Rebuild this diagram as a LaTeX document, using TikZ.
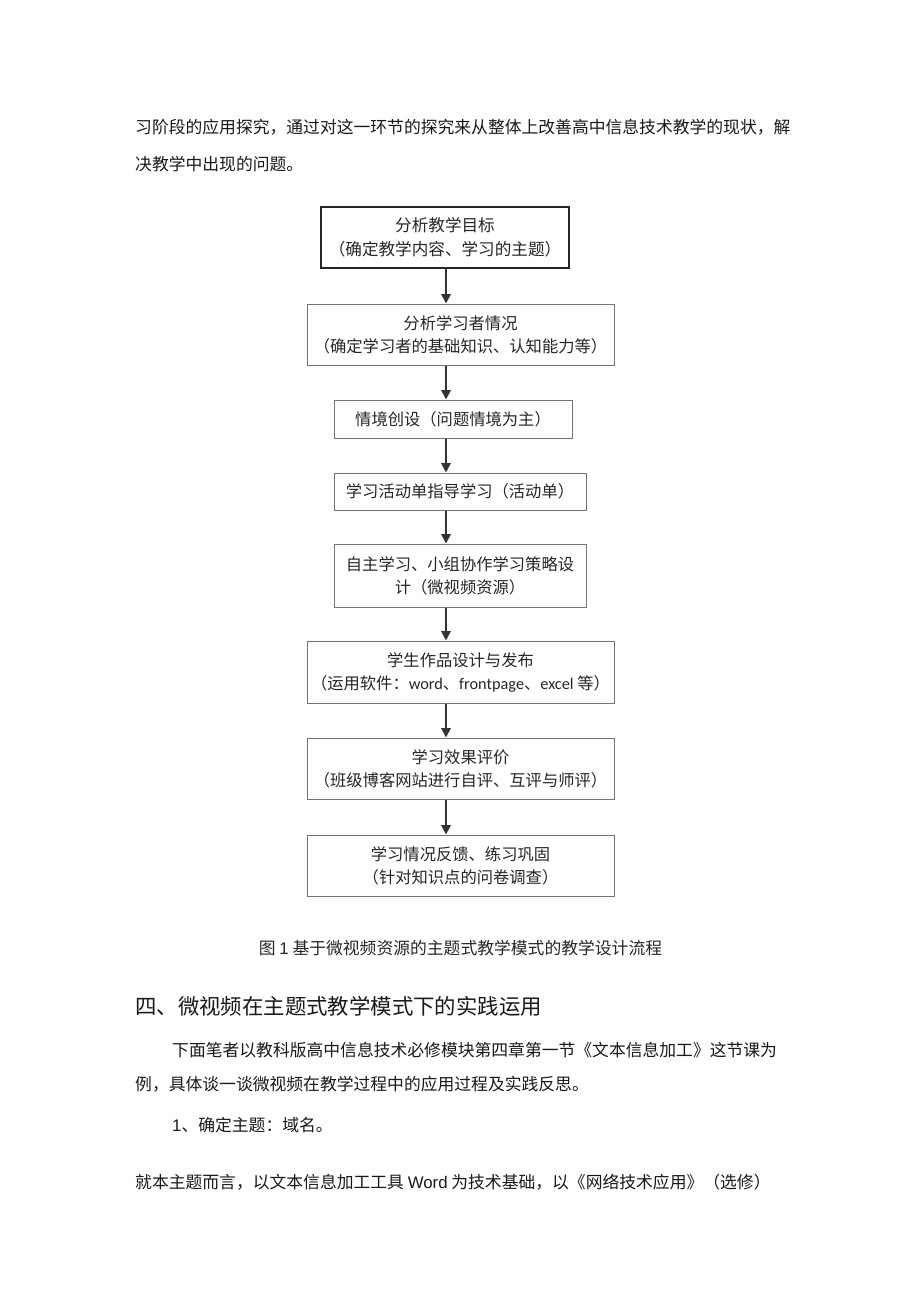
\documentclass[tikz,border=0pt]{standalone}
\usepackage{fontspec}
\setmainfont{Noto Sans CJK SC}
\newfontfamily\latsans{Liberation Sans}
\newfontfamily\calib{Carlito}
\usetikzlibrary{arrows.meta}
\tikzset{
  bodytext/.style={anchor=west, inner sep=0pt, text=black!90, font=\fontsize{16.8}{20}\selectfont},
  flowbox/.style={draw=black!55, line width=1pt, rectangle, inner sep=0pt, align=center,
    text=black!85, font=\fontsize{16.3}{23}\selectfont},
  firstbox/.style={flowbox, draw=black!85, line width=1.6pt, font=\fontsize{16.6}{24}\selectfont},
  flowarrow/.style={draw=black!80, line width=1.9pt, -{Triangle[length=9.5pt,width=9.5pt]}}
}
\begin{document}
\begin{tikzpicture}[x=1pt,y=-1pt]
\useasboundingbox (0,0) rectangle (920,1301);
\fill[white] (0,0) rectangle (920,1301);

% body text above
\node[bodytext] (p1) at (135,127) {习阶段的应用探究，通过对这一环节的探究来从整体上改善高中信息技术教学的现状，解};
\node[bodytext] (p2) at (135,164) {决教学中出现的问题。};

% flow boxes
\node[firstbox, minimum width=248pt, minimum height=61pt] (b1) at (445,237.5) {分析教学目标\\（确定教学内容、学习的主题）};
\node[flowbox, minimum width=307pt, minimum height=61pt] (b2) at (460.5,334.5) {分析学习者情况\\（确定学习者的基础知识、认知能力等）};
\node[flowbox, minimum width=238pt, minimum height=38pt] (b3) at (453,419) {情境创设（问题情境为主）};
\node[flowbox, minimum width=252pt, minimum height=37pt] (b4) at (460,491.5) {学习活动单指导学习（活动单）};
\node[flowbox, minimum width=252pt, minimum height=63pt] (b5) at (460,575.5) {自主学习、小组协作学习策略设\\计（微视频资源）};
\node[flowbox, minimum width=307pt, minimum height=62pt] (b6) at (460.5,672) {学生作品设计与发布\\（运用软件：{\calib word}、{\calib frontpage}、{\calib excel }等）};
\node[flowbox, minimum width=307pt, minimum height=61pt] (b7) at (460.5,768.5) {学习效果评价\\（班级博客网站进行自评、互评与师评）};
\node[flowbox, minimum width=307pt, minimum height=61pt] (b8) at (460.5,865.5) {学习情况反馈、练习巩固\\（针对知识点的问卷调查）};

% arrows
\coordinate (ax) at (446,0);
\draw[flowarrow] (ax |- b1.south) -- (ax |- b2.north);
\draw[flowarrow] (ax |- b2.south) -- (ax |- b3.north);
\draw[flowarrow] (ax |- b3.south) -- (ax |- b4.north);
\draw[flowarrow] (ax |- b4.south) -- (ax |- b5.north);
\draw[flowarrow] (ax |- b5.south) -- (ax |- b6.north);
\draw[flowarrow] (ax |- b6.south) -- (ax |- b7.north);
\draw[flowarrow] (ax |- b7.south) -- (ax |- b8.north);

% caption
\node[inner sep=0pt, text=black!85, font=\fontsize{16.8}{20}\selectfont] (cap) at (460.5,948) {图 {\latsans 1} 基于微视频资源的主题式教学模式的教学设计流程};

% heading and paragraphs
\node[bodytext, font=\fontsize{21.4}{24}\selectfont] (h4) at (135,1006) {四、微视频在主题式教学模式下的实践运用};
\node[bodytext] (q1) at (172,1050) {下面笔者以教科版高中信息技术必修模块第四章第一节《文本信息加工》这节课为};
\node[bodytext] (q2) at (135,1084) {例，具体谈一谈微视频在教学过程中的应用过程及实践反思。};
\node[bodytext] (q3) at (172,1125) {{\latsans 1}、确定主题：域名。};
\node[bodytext] (q4) at (135,1182) {就本主题而言，以文本信息加工工具 {\latsans Word} 为技术基础，以《网络技术应用》（选修）};
\end{tikzpicture}
\end{document}
